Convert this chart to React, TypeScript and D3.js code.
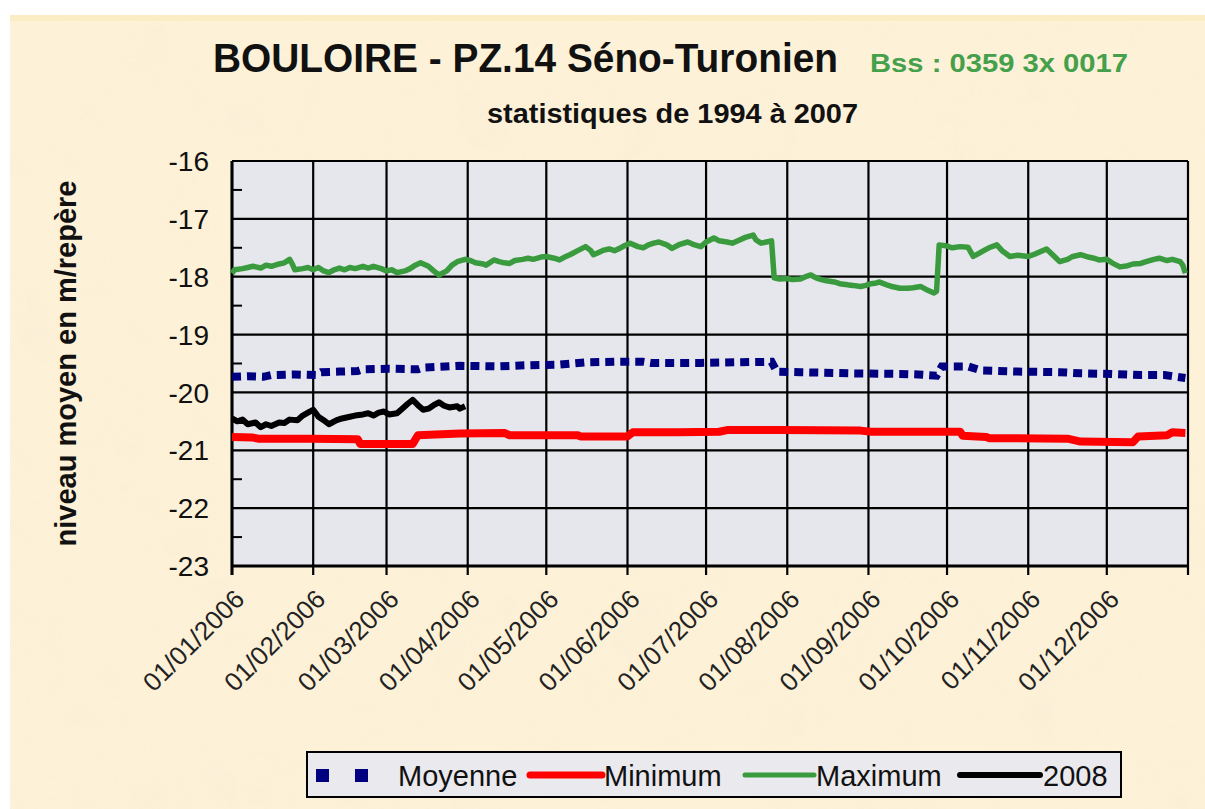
import React from 'react';
import * as d3 from 'd3';

// ---- data (day offset from 01/01, value in m) ----
const monthLabels = ['01/01/2006','01/02/2006','01/03/2006','01/04/2006','01/05/2006','01/06/2006','01/07/2006','01/08/2006','01/09/2006','01/10/2006','01/11/2006','01/12/2006'];
const yTicks = [-16,-17,-18,-19,-20,-21,-22,-23];

const maximum: [number, number][] = [
  [0,-17.94],[1,-17.88],[4,-17.86],[6,-17.84],[8,-17.82],[11,-17.85],[13,-17.80],[15,-17.82],[18,-17.78],[20,-17.76],[22,-17.70],[23,-17.78],[24,-17.88],[27,-17.86],[29,-17.84],[31,-17.88],[33,-17.84],[35,-17.90],[37,-17.93],[39,-17.88],[41,-17.85],[43,-17.88],[45,-17.84],[47,-17.86],[50,-17.82],[52,-17.85],[54,-17.82],[57,-17.86],[59,-17.90],[61,-17.88],[63,-17.93],[66,-17.90],[68,-17.86],[70,-17.80],[72,-17.76],[75,-17.82],[77,-17.90],[79,-17.97],[82,-17.90],[84,-17.80],[86,-17.74],[89,-17.70],[91,-17.72],[93,-17.76],[96,-17.78],[97,-17.80],[100,-17.71],[102,-17.74],[104,-17.76],[106,-17.77],[108,-17.72],[111,-17.70],[113,-17.68],[115,-17.70],[118,-17.66],[120,-17.65],[123,-17.68],[125,-17.71],[127,-17.66],[129,-17.62],[132,-17.55],[135,-17.48],[137,-17.55],[138,-17.62],[140,-17.58],[142,-17.54],[144,-17.52],[146,-17.55],[148,-17.51],[150,-17.46],[152,-17.42],[155,-17.48],[157,-17.50],[159,-17.45],[161,-17.42],[163,-17.40],[166,-17.45],[168,-17.51],[171,-17.44],[174,-17.40],[176,-17.44],[179,-17.48],[181,-17.40],[184,-17.33],[186,-17.38],[189,-17.40],[191,-17.42],[194,-17.36],[196,-17.32],[199,-17.28],[200,-17.36],[202,-17.42],[204,-17.40],[206,-17.38],[207,-18.02],[209,-18.04],[212,-18.03],[214,-18.05],[217,-18.04],[219,-18.00],[221,-17.97],[223,-18.02],[225,-18.05],[227,-18.07],[230,-18.09],[232,-18.12],[235,-18.14],[237,-18.15],[240,-18.17],[242,-18.15],[244,-18.12],[246,-18.11],[247,-18.09],[250,-18.14],[252,-18.17],[255,-18.20],[258,-18.20],[260,-18.19],[263,-18.17],[265,-18.22],[268,-18.28],[269,-18.25],[270,-17.45],[273,-17.47],[275,-17.50],[278,-17.48],[281,-17.49],[283,-17.65],[285,-17.60],[287,-17.55],[289,-17.50],[292,-17.45],[294,-17.55],[297,-17.65],[300,-17.63],[304,-17.65],[307,-17.60],[309,-17.56],[311,-17.52],[314,-17.65],[316,-17.74],[319,-17.70],[321,-17.65],[324,-17.62],[327,-17.66],[329,-17.68],[331,-17.71],[334,-17.70],[336,-17.76],[339,-17.83],[342,-17.81],[344,-17.78],[347,-17.77],[349,-17.74],[352,-17.70],[354,-17.68],[357,-17.72],[359,-17.70],[362,-17.74],[363,-17.80],[364,-17.94]
];

const moyenne: [number, number][] = [
  [0,-19.73],[6,-19.72],[12,-19.73],[15,-19.70],[24,-19.69],[32,-19.70],[34,-19.65],[41,-19.64],[48,-19.63],[50,-19.60],[60,-19.59],[71,-19.60],[73,-19.57],[87,-19.54],[101,-19.55],[113,-19.53],[125,-19.52],[135,-19.48],[146,-19.47],[157,-19.47],[160,-19.49],[176,-19.49],[179,-19.49],[192,-19.48],[206,-19.47],[208,-19.64],[217,-19.65],[236,-19.67],[255,-19.68],[262,-19.69],[269,-19.71],[271,-19.55],[281,-19.55],[286,-19.62],[300,-19.64],[316,-19.65],[324,-19.67],[336,-19.68],[347,-19.70],[356,-19.70],[364,-19.75]
];

const minimum: [number, number][] = [
  [0,-20.77],[8,-20.78],[10,-20.80],[30,-20.80],[48,-20.81],[49,-20.89],[69,-20.89],[71,-20.74],[87,-20.71],[104,-20.70],[106,-20.74],[132,-20.74],[133,-20.76],[151,-20.76],[153,-20.69],[170,-20.69],[186,-20.68],[189,-20.65],[209,-20.65],[240,-20.66],[244,-20.68],[278,-20.68],[279,-20.75],[288,-20.77],[289,-20.79],[319,-20.80],[324,-20.85],[344,-20.86],[346,-20.76],[357,-20.74],[359,-20.69],[364,-20.70]
];

const y2008: [number, number][] = [
  [0,-20.45],[2,-20.50],[4,-20.47],[6,-20.55],[9,-20.52],[11,-20.60],[13,-20.55],[15,-20.58],[18,-20.52],[20,-20.53],[22,-20.47],[25,-20.48],[27,-20.40],[29,-20.35],[31,-20.30],[33,-20.42],[35,-20.48],[37,-20.55],[40,-20.48],[42,-20.45],[45,-20.42],[47,-20.40],[50,-20.38],[52,-20.36],[54,-20.40],[56,-20.35],[58,-20.33],[60,-20.38],[63,-20.36],[65,-20.28],[67,-20.20],[69,-20.13],[71,-20.22],[73,-20.30],[75,-20.28],[77,-20.22],[79,-20.17],[81,-20.23],[83,-20.26],[86,-20.24],[87,-20.28],[89,-20.24]
];

const legendItems = ['Moyenne', 'Minimum', 'Maximum', '2008'];

const FONT = '"Liberation Sans", Arial, Helvetica, sans-serif';

export default function App() {
  const W = 1205, H = 809;
  const L = 232, R = 1188, T = 161, B = 566;
  const start = new Date(2006, 0, 1);
  const end = new Date(2007, 0, 1);
  const x = d3.scaleTime().domain([start, end]).range([L, R]);
  const y = d3.scaleLinear().domain([-23, -16]).range([B, T]);
  const toDate = (d: number) => d3.timeDay.offset(start, d);
  const line = d3.line<[number, number]>().x(d => x(toDate(d[0]))).y(d => y(d[1])).curve(d3.curveLinear);
  const months = d3.timeMonth.range(start, d3.timeDay.offset(end, 1));
  const minorY = d3.range(-22.5, -16, 1);

  return (
    <svg width={W} height={H} style={{ position: 'absolute', left: 0, top: 0 }} fontFamily={FONT}>
      <defs>
        <filter id="paper" x="0" y="0" width="100%" height="100%">
          <feTurbulence type="fractalNoise" baseFrequency="0.012" numOctaves={3} seed={4} result="n" />
          <feColorMatrix in="n" type="matrix" values="0 0 0 0 0.93  0 0 0 0 0.84  0 0 0 0 0.66  0 0 0 1.1 -0.45" />
        </filter>
      </defs>
      <rect x={0} y={0} width={W} height={H} fill="#ffffff" />
      <rect x={10} y={15} width={W - 10} height={H - 15} fill="#fdf1d8" />
      <rect x={10} y={15} width={W - 10} height={H - 15} filter="url(#paper)" opacity={0.5} />
      <rect x={10} y={15} width={W - 10} height={6} fill="#fbeab8" opacity={0.6} />

      {/* title */}
      <text x={213} y={72} fontSize={40} fontWeight="bold" fill="#111" textLength={625} lengthAdjust="spacingAndGlyphs">BOULOIRE - PZ.14 Séno-Turonien</text>
      <text x={870} y={72} fontSize={26} fontWeight="bold" fill="#45a04c" textLength={258} lengthAdjust="spacingAndGlyphs">Bss : 0359 3x 0017</text>
      <text x={487} y={123} fontSize={28} fontWeight="bold" fill="#111" textLength={371} lengthAdjust="spacingAndGlyphs">statistiques de 1994 à 2007</text>

      {/* plot area */}
      <rect x={L} y={T} width={R - L} height={B - T} fill="#e6e7ec" />
      {yTicks.map(v => (
        <line key={'h' + v} x1={L} x2={R} y1={y(v)} y2={y(v)} stroke="#000" strokeWidth={2.2} />
      ))}
      {months.map((m, i) => (
        <line key={'v' + i} x1={x(m)} x2={x(m)} y1={T} y2={B + 9} stroke="#000" strokeWidth={2.2} />
      ))}
      {minorY.map(v => (
        <line key={'mt' + v} x1={L} x2={L + 10} y1={y(v)} y2={y(v)} stroke="#000" strokeWidth={2} />
      ))}
      <line x1={L} x2={L} y1={T} y2={B + 9} stroke="#000" strokeWidth={3} />
      <line x1={L} x2={R} y1={B} y2={B} stroke="#000" strokeWidth={3} />

      {/* series */}
      <path d={line(minimum) || ''} fill="none" stroke="#ff0000" strokeWidth={8} strokeLinejoin="round" />
      <path d={line(maximum) || ''} fill="none" stroke="#3a9a3e" strokeWidth={5.5} strokeLinejoin="round" />
      <path d={line(moyenne) || ''} fill="none" stroke="#000080" strokeWidth={8} strokeDasharray="9 6" />
      <path d={line(y2008) || ''} fill="none" stroke="#000" strokeWidth={6} strokeLinejoin="round" />

      {/* y tick labels */}
      {yTicks.map(v => (
        <text key={'yl' + v} x={209} y={y(v)} dy="0.36em" textAnchor="end" fontSize={28} fill="#111">{v}</text>
      ))}
      {/* x tick labels */}
      {months.slice(0, 12).map((m, i) => (
        <text key={'xl' + i} transform={`translate(${x(m) + 1},${B + 22}) rotate(-45)`} textAnchor="end" dy="0.7em" fontSize={26} fill="#222">{monthLabels[i]}</text>
      ))}

      {/* y axis title */}
      <text transform={`translate(76,${(T + B) / 2}) rotate(-90)`} textAnchor="middle" fontSize={29} fontWeight="bold" fill="#111">niveau moyen en m/repère</text>

      {/* legend */}
      <rect x={307} y={752} width={814} height={45} fill="#e9e9ee" stroke="#000" strokeWidth={2} />
      <rect x={316} y={769} width={13} height={13} fill="#000080" />
      <rect x={355} y={769} width={13} height={13} fill="#000080" />
      <text x={398} y={786} fontSize={29} fill="#111">{legendItems[0]}</text>
      <line x1={530} x2={602} y1={775} y2={775} stroke="#ff0000" strokeWidth={7} strokeLinecap="round" />
      <text x={604} y={786} fontSize={29} fill="#111">{legendItems[1]}</text>
      <line x1={745} x2={814} y1={775} y2={775} stroke="#3a9a3e" strokeWidth={5} strokeLinecap="round" />
      <text x={816} y={786} fontSize={29} fill="#111">{legendItems[2]}</text>
      <line x1={960} x2={1040} y1={775} y2={775} stroke="#000" strokeWidth={6} strokeLinecap="round" />
      <text x={1043} y={786} fontSize={29} fill="#111">{legendItems[3]}</text>
    </svg>
  );
}
